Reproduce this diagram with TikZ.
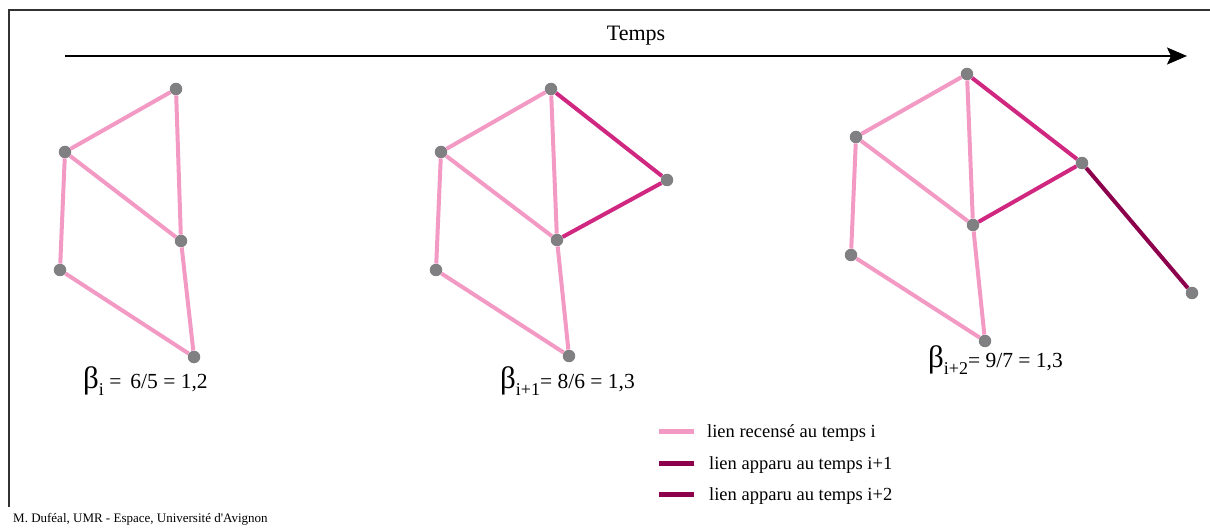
\documentclass[tikz,border=0pt]{standalone}
\usepackage{fontspec}
\setmainfont{Liberation Serif}
\newfontfamily\credfont{Liberation Serif}[Ligatures=TeXOff]
\usetikzlibrary{arrows.meta}
\definecolor{lpink}{RGB}{243,154,196}
\definecolor{lmag}{RGB}{208,40,128}
\definecolor{ldark}{RGB}{140,0,76}
\definecolor{dotgray}{RGB}{128,128,130}
\definecolor{framegray}{RGB}{50,50,50}
\tikzset{
  dot/.style={circle,fill=dotgray,minimum size=12.5pt,inner sep=0pt},
  pinkedge/.style={lpink,line width=4pt},
  magedge/.style={lmag,line width=4pt},
  darkedge/.style={ldark,line width=4pt},
  legline/.style={line width=5pt},
  legtext/.style={anchor=base west,inner sep=0pt,font=\fontsize{18.5}{20}\selectfont},
  betalab/.style={anchor=base west,inner sep=0pt,font=\fontsize{21.5}{22}\selectfont},
}
\newcommand{\bsym}{{\fontsize{31}{31}\selectfont β}}
\newcommand{\bsub}[1]{\raisebox{-7pt}{\fontsize{18}{18}\selectfont #1}}
\begin{document}
\begin{tikzpicture}[x=1pt,y=-1pt]
\useasboundingbox (0,0) rectangle (1210,529);
% frame
\draw[framegray,line width=1.3pt] (9,507) -- (9,10) -- (1210,10);
% time arrow
\coordinate (t0) at (65,56);
\coordinate (t1) at (1187,56);
\draw[line width=2pt,-{Stealth[length=20pt,width=17pt,inset=4pt]}] (t0) -- (t1);
\node[inner sep=0pt,anchor=base,font=\fontsize{22}{24}\selectfont] (temps) at (636,41) {Temps};
% graph 1
\node[dot] (a1) at (176,89) {};
\node[dot] (b1) at (65,152) {};
\node[dot] (c1) at (181,241) {};
\node[dot] (d1) at (60,270) {};
\node[dot] (e1) at (194,357) {};
\draw[pinkedge] (a1)--(b1) (a1)--(c1) (b1)--(c1) (b1)--(d1) (c1)--(e1) (d1)--(e1);
% graph 2
\node[dot] (a2) at (551,89) {};
\node[dot] (b2) at (441,152) {};
\node[dot] (c2) at (557,240) {};
\node[dot] (d2) at (436,270) {};
\node[dot] (e2) at (569,356) {};
\node[dot] (f2) at (667,180) {};
\draw[pinkedge] (a2)--(b2) (a2)--(c2) (b2)--(c2) (b2)--(d2) (c2)--(e2) (d2)--(e2);
\draw[magedge] (a2)--(f2) (c2)--(f2);
% graph 3
\node[dot] (a3) at (967,74) {};
\node[dot] (b3) at (856,137) {};
\node[dot] (c3) at (973,225) {};
\node[dot] (d3) at (851,255) {};
\node[dot] (e3) at (985,341) {};
\node[dot] (f3) at (1082,163) {};
\node[dot] (g3) at (1192,293) {};
\draw[pinkedge] (a3)--(b3) (a3)--(c3) (b3)--(c3) (b3)--(d3) (c3)--(e3) (d3)--(e3);
\draw[magedge] (a3)--(f3) (c3)--(f3);
\draw[darkedge] (f3)--(g3);
% beta labels
\node[betalab] (beta1) at (83,388) {\bsym\bsub{i} =\, 6/5 = 1,2};
\node[betalab] (beta2) at (500,388) {\bsym\bsub{i+1}= 8/6 = 1,3};
\node[betalab] (beta3) at (928,367) {\bsym\bsub{i+2}= 9/7 = 1,3};
% legend
\coordinate (l1a) at (659,431); \coordinate (l1b) at (694,431);
\coordinate (l2a) at (659,463); \coordinate (l2b) at (694,463);
\coordinate (l3a) at (659,494); \coordinate (l3b) at (694,494);
\draw[legline,lpink] (l1a) -- (l1b);
\draw[legline,ldark] (l2a) -- (l2b);
\draw[legline,ldark] (l3a) -- (l3b);
\node[legtext] (lt1) at (707,437) {lien recensé au temps i};
\node[legtext] (lt2) at (709,469) {lien apparu au temps i+1};
\node[legtext] (lt3) at (709,500) {lien apparu au temps i+2};
% credit
\node[anchor=base west,inner sep=0pt,font=\credfont\fontsize{13}{14}\selectfont] (credit) at (13,522) {M. Duféal, UMR - Espace, Université d'Avignon};
\end{tikzpicture}
\end{document}
